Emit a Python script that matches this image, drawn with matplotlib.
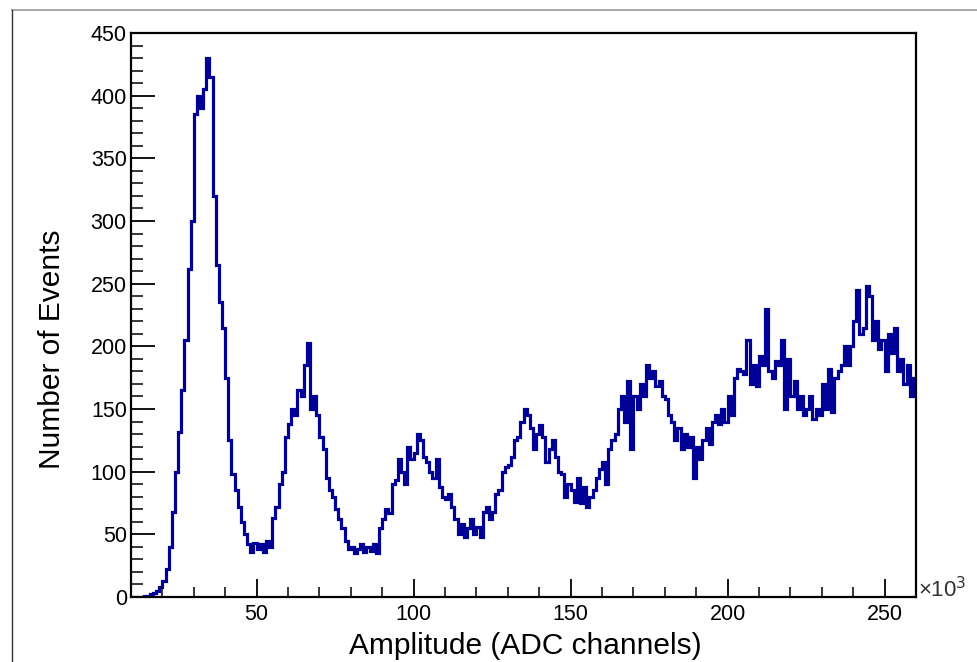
import numpy as np
import matplotlib
matplotlib.use("Agg")
import matplotlib.pyplot as plt
from matplotlib.lines import Line2D
from matplotlib.ticker import MultipleLocator

plt.rcParams['font.family'] = ['Liberation Sans', 'DejaVu Sans']

# Histogram: bins of width 1 (x10^3 ADC channels) starting at 10
bin_start = 10
counts = [
    0, 0, 0, 0, 1, 1, 2, 3, 5, 8,                      # 10-19
    13, 22, 40, 68, 100, 132, 165, 205, 262, 300,      # 20-29
    385, 400, 390, 405, 430, 415, 320, 265, 235, 215,  # 30-39
    175, 125, 98, 85, 72, 60, 50, 42, 36, 43,          # 40-49
    38, 42, 36, 45, 40, 63, 72, 90, 100, 128,          # 50-59
    138, 150, 145, 165, 160, 185, 203, 150, 160, 145,  # 60-69
    128, 118, 95, 85, 80, 70, 62, 55, 45, 38,          # 70-79
    40, 35, 38, 42, 36, 40, 37, 42, 35, 55,            # 80-89
    62, 70, 67, 90, 93, 110, 100, 90, 120, 110,        # 90-99
    115, 130, 125, 112, 108, 100, 95, 110, 88, 80,     # 100-109
    78, 82, 72, 62, 50, 58, 48, 55, 62, 50,            # 110-119
    56, 48, 68, 72, 62, 68, 82, 85, 100, 104,          # 120-129
    105, 112, 125, 128, 140, 150, 145, 135, 118, 130,  # 130-139
    137, 128, 108, 118, 125, 112, 100, 98, 80, 90,     # 140-149
    85, 76, 95, 75, 88, 72, 80, 85, 95, 102,           # 150-159
    108, 90, 118, 125, 130, 150, 160, 140, 172, 118,   # 160-169
    160, 150, 170, 160, 185, 175, 180, 168, 172, 160,  # 170-179
    158, 145, 140, 125, 135, 118, 130, 120, 128, 95,   # 180-189
    120, 110, 125, 135, 122, 140, 145, 138, 150, 140,  # 190-199
    160, 145, 175, 182, 180, 178, 205, 170, 185, 168,  # 200-209
    192, 185, 230, 180, 175, 188, 185, 205, 150, 190,  # 210-219
    160, 172, 150, 160, 145, 150, 160, 142, 150, 145,  # 220-229
    170, 150, 182, 148, 175, 180, 185, 200, 185, 200,  # 230-239
    220, 245, 210, 215, 248, 240, 205, 220, 198, 205,  # 240-249
    180, 210, 195, 215, 180, 190, 170, 185, 160, 175,  # 250-259
]
x_ticks = [50, 100, 150, 200, 250]
y_ticks = [0, 50, 100, 150, 200, 250, 300, 350, 400, 450]
x_label = "Amplitude (ADC channels)"
y_label = "Number of Events"

W, H = 978, 662
fig = plt.figure(figsize=(W / 100, H / 100), dpi=100)
ax = fig.add_axes([131 / W, 1 - 597 / H, (916 - 131) / W, (597 - 33) / H])

edges = np.arange(bin_start, bin_start + len(counts) + 1)
ax.stairs(counts, edges, baseline=None, color='#000096', lw=2.3)

ax.set_xlim(10, 260)
ax.set_ylim(0, 450)
ax.set_xticks(x_ticks)
ax.set_yticks(y_ticks)
ax.xaxis.set_minor_locator(MultipleLocator(10))
ax.yaxis.set_minor_locator(MultipleLocator(10))
ax.tick_params(axis='y', which='major', direction='in', length=17, width=1.3, labelsize=15.5, pad=3)
ax.tick_params(axis='y', which='minor', direction='in', length=8.5, width=1.1)
ax.tick_params(axis='x', which='major', direction='in', length=13, width=1.3, labelsize=15.5, pad=5)
ax.tick_params(axis='x', which='minor', direction='in', length=7, width=1.1)
for s in ax.spines.values():
    s.set_linewidth(1.6)
    s.set_color('black')

fig.text(525 / W, 1 - 646 / H, x_label, ha='center', va='center', fontsize=21.5)
fig.text(52 / W, 1 - 349 / H, y_label, ha='center', va='center', rotation=90, fontsize=21.5)
fig.text(918 / W, 1 - 590 / H, r"×10$^{3}$", ha='left', va='center', fontsize=16, color='#333333')

# canvas border
fig.add_artist(Line2D([12 / W, 1], [1 - 10 / H, 1 - 10 / H], color='#9a9a9a', lw=1.2))
fig.add_artist(Line2D([12 / W, 12 / W], [0, 1 - 10 / H], color='#333333', lw=1.0))

fig.savefig('out.png', dpi=100)
